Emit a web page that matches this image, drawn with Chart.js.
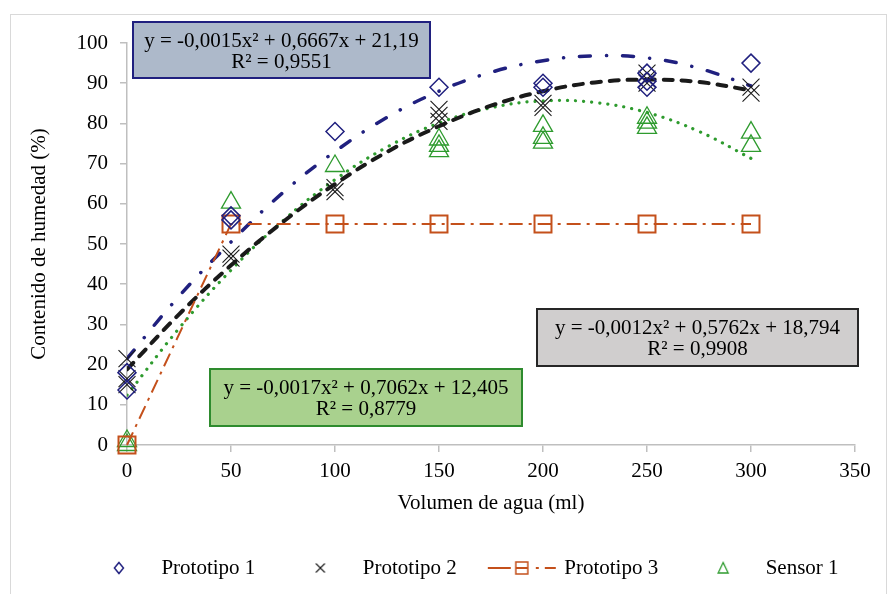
<!DOCTYPE html>
<html>
<head>
<meta charset="utf-8">
<script src="https://cdn.jsdelivr.net/npm/chart.js@4.4.1/dist/chart.umd.min.js"></script>
<style>
  html, body { margin: 0; padding: 0; background: #fff; }
  #wrap { width: 888px; height: 594px; position: relative; }
</style>
</head>
<body>
<div id="wrap"><canvas id="chart"></canvas></div>
<script>
// Measured points: x = volumen de agua (ml), y = contenido de humedad (%)
const proto1X = [0, 0, 50, 50, 100, 150, 200, 200, 250, 250, 250, 300];
const proto1Y = [18, 13.7, 57, 56, 78, 89, 90, 89, 92.5, 90.5, 89, 95];

const proto2X = [0, 0, 0, 50, 50, 100, 100, 150, 150, 150, 200, 200, 250, 250, 250, 300, 300];
const proto2Y = [21.5, 16.5, 15, 47.5, 46.5, 64, 63, 83.5, 82, 80.5, 85, 84, 92.5, 91, 90, 89, 87.5];

const proto3X = [0, 50, 100, 150, 200, 250, 300];
const proto3Y = [0, 55, 55, 55, 55, 55, 55];

const sensorX = [0, 0, 50, 100, 150, 150, 150, 200, 200, 200, 250, 250, 250, 300, 300];
const sensorY = [1, 0, 60.3, 69.4, 76, 74.4, 73.1, 79.4, 76.4, 75.2, 81.4, 80.2, 78.9, 77.7, 74.4];

// Polynomial trend curves
const trendX  = [0, 25, 50, 75, 100, 125, 150, 175, 200, 225, 250, 275, 300];
const trendP1 = [21.5, 37, 50.5, 62.8, 73, 81.5, 88, 92.7, 95.6, 96.8, 96.3, 93.7, 89.3];
const trendP2 = [18.8, 32.5, 44.7, 55.5, 64.9, 72.9, 79.3, 84.4, 88.0, 90.2, 90.9, 90.3, 88.2];
const trendS1 = [12.4, 29, 43.5, 55.8, 66, 74.1, 80.1, 83.9, 85.6, 85.2, 82.7, 78, 71.3];

const xTickValues = [0, 50, 100, 150, 200, 250, 300, 350];
const yTickValues = [0, 10, 20, 30, 40, 50, 60, 70, 80, 90, 100];

const legendNames = ['Prototipo 1', 'Prototipo 2', 'Prototipo 3', 'Sensor 1'];
const eqProto1 = ['y = -0,0015x\u00B2 + 0,6667x + 21,19', 'R\u00B2 = 0,9551'];
const eqProto2 = ['y = -0,0012x\u00B2 + 0,5762x + 18,794', 'R\u00B2 = 0,9908'];
const eqSensor1 = ['y = -0,0017x\u00B2 + 0,7062x + 12,405', 'R\u00B2 = 0,8779'];

const NAVY = '#20207F';
const BLACK = '#1A1A1A';
const ORANGE = '#C4501B';
const GREEN = '#2E9B2E';
const AXIS = '#BFBFBF';
const FONT = '"Liberation Serif", "Times New Roman", serif';

const pts = (xs, ys) => xs.map((x, i) => ({ x: x, y: ys[i] }));

// small canvases used as legend symbols
function makeIcon(w, draw) {
    const c = document.createElement('canvas');
    c.width = w;
    c.height = 24;
    const g = c.getContext('2d');
    draw(g, w / 2, 12);
    return c;
}

const legendIcons = [
    makeIcon(64, (g, cx, cy) => {
        g.strokeStyle = NAVY; g.lineWidth = 1.5;
        g.beginPath();
        g.moveTo(cx, cy - 5.5); g.lineTo(cx + 4.5, cy); g.lineTo(cx, cy + 5.5); g.lineTo(cx - 4.5, cy);
        g.closePath(); g.stroke();
    }),
    makeIcon(64, (g, cx, cy) => {
        g.strokeStyle = BLACK; g.lineWidth = 1.1;
        g.beginPath();
        g.moveTo(cx - 4.5, cy - 4.5); g.lineTo(cx + 4.5, cy + 4.5);
        g.moveTo(cx + 4.5, cy - 4.5); g.lineTo(cx - 4.5, cy + 4.5);
        g.stroke();
    }),
    makeIcon(70, (g, cx, cy) => {
        g.strokeStyle = ORANGE; g.lineWidth = 2;
        g.beginPath();
        g.moveTo(cx - 34, cy); g.lineTo(cx - 11, cy);
        g.moveTo(cx - 6, cy); g.lineTo(cx + 6, cy);
        g.moveTo(cx + 14, cy); g.lineTo(cx + 17, cy);
        g.moveTo(cx + 23, cy); g.lineTo(cx + 34, cy);
        g.stroke();
        g.lineWidth = 1.5;
        g.strokeRect(cx - 6, cy - 6, 12, 12);
    }),
    makeIcon(64, (g, cx, cy) => {
        g.strokeStyle = GREEN; g.lineWidth = 1.3;
        g.beginPath();
        g.moveTo(cx, cy - 5.5); g.lineTo(cx + 5, cy + 5); g.lineTo(cx - 5, cy + 5);
        g.closePath(); g.stroke();
    })
];

// equation boxes and outer frame
const eqBoxes = {
    id: 'eqBoxes',
    afterDraw(chart) {
        const ctx = chart.ctx;
        ctx.save();
        ctx.strokeStyle = '#D9D9D9';
        ctx.lineWidth = 1;
        ctx.strokeRect(10.5, 14.5, 876, 600);

        const boxes = [
            { x: 133, y: 22, w: 297, h: 56, fill: '#ADB9CA', stroke: NAVY, lines: eqProto1 },
            { x: 537, y: 309, w: 321, h: 57, fill: '#D0CECE', stroke: '#262626', lines: eqProto2 },
            { x: 210, y: 369, w: 312, h: 57, fill: '#A9D18E', stroke: '#2E8B2E', lines: eqSensor1 }
        ];
        ctx.font = '21px ' + FONT;
        ctx.textAlign = 'center';
        ctx.textBaseline = 'middle';
        boxes.forEach(b => {
            ctx.fillStyle = b.fill;
            ctx.fillRect(b.x, b.y, b.w, b.h);
            ctx.strokeStyle = b.stroke;
            ctx.lineWidth = 2;
            ctx.strokeRect(b.x, b.y, b.w, b.h);
            ctx.fillStyle = '#000';
            ctx.fillText(b.lines[0], b.x + b.w / 2, b.y + 19.5);
            ctx.fillText(b.lines[1], b.x + b.w / 2, b.y + 40);
        });
        ctx.restore();
    }
};

const markerBase = {
    showLine: false,
    backgroundColor: 'rgba(0,0,0,0)',
    pointBackgroundColor: 'rgba(0,0,0,0)',
    clip: false
};

const trendBase = {
    showLine: true,
    pointRadius: 0,
    fill: false,
    tension: 0.4,
    borderCapStyle: 'round'
};

new Chart(document.getElementById('chart'), {
    type: 'scatter',
    data: {
        datasets: [
            Object.assign({}, markerBase, {
                label: legendNames[0], data: pts(proto1X, proto1Y),
                pointStyle: 'rectRot', pointRadius: 9, borderColor: NAVY, pointBorderWidth: 1.5
            }),
            Object.assign({}, markerBase, {
                label: legendNames[1], data: pts(proto2X, proto2Y),
                pointStyle: 'crossRot', pointRadius: 12, borderColor: BLACK, pointBorderWidth: 1.1
            }),
            Object.assign({}, markerBase, {
                label: legendNames[2], data: pts(proto3X, proto3Y),
                showLine: true, borderColor: ORANGE, borderWidth: 2, borderDash: [14, 6, 3, 6],
                pointStyle: 'rect', pointRadius: 12, pointBorderWidth: 2, tension: 0
            }),
            Object.assign({}, markerBase, {
                label: legendNames[3], data: pts(sensorX, sensorY),
                pointStyle: 'triangle', pointRadius: 11, borderColor: GREEN, pointBorderWidth: 1.3
            }),
            Object.assign({}, trendBase, {
                label: 'trend1', data: pts(trendX, trendP1),
                borderColor: NAVY, borderWidth: 3.5, borderDash: [11, 16, 0.1, 16]
            }),
            Object.assign({}, trendBase, {
                label: 'trend2', data: pts(trendX, trendP2),
                borderColor: BLACK, borderWidth: 4, borderDash: [9, 9]
            }),
            Object.assign({}, trendBase, {
                label: 'trend3', data: pts(trendX, trendS1),
                borderColor: GREEN, borderWidth: 3.2, borderDash: [0.1, 8]
            })
        ]
    },
    options: {
        responsive: true,
        maintainAspectRatio: false,
        animation: false,
        events: [],
        layout: { padding: { left: 37.5, right: 0, top: 43, bottom: 5.5 } },
        scales: {
            x: {
                type: 'linear',
                min: 0,
                max: 350,
                afterBuildTicks: axis => { axis.ticks = xTickValues.map(v => ({ value: v })); },
                afterFit: axis => { axis.height = 79.5; },
                ticks: { color: '#000', font: { family: FONT, size: 21 }, padding: 7, autoSkip: false, maxRotation: 0 },
                grid: { drawOnChartArea: false, drawTicks: true, tickLength: 7, color: AXIS, lineWidth: 1.5 },
                border: { color: AXIS, width: 1.5 },
                title: {
                    display: true, text: 'Volumen de agua (ml)', color: '#000',
                    font: { family: FONT, size: 21 }, padding: { top: 0, bottom: 8 }
                }
            },
            y: {
                type: 'linear',
                min: 0,
                max: 100,
                afterBuildTicks: axis => { axis.ticks = yTickValues.map(v => ({ value: v })); },
                afterFit: axis => { axis.width = 89.5; },
                ticks: { color: '#000', font: { family: FONT, size: 21 }, padding: 12, autoSkip: false },
                grid: { drawOnChartArea: false, drawTicks: true, tickLength: 7, color: AXIS, lineWidth: 1.5 },
                border: { color: AXIS, width: 1.5 },
                title: {
                    display: true, text: 'Contenido de humedad (%)', color: '#000',
                    font: { family: FONT, size: 21 }, padding: { top: -11, bottom: 0 }
                }
            },
            // empty right-hand box that keeps the plot area off the right edge
            yRight: {
                type: 'linear',
                position: 'right',
                display: true,
                ticks: { display: false },
                grid: { display: false },
                border: { display: false },
                afterFit: axis => { axis.width = 33; }
            }
        },
        plugins: {
            tooltip: { enabled: false },
            legend: {
                position: 'bottom',
                labels: {
                    usePointStyle: true,
                    pointStyleWidth: 64,
                    padding: 33,
                    color: '#000',
                    font: { family: FONT, size: 21 },
                    generateLabels: () => legendNames.map((t, i) => ({
                        text: t,
                        pointStyle: legendIcons[i],
                        fontColor: '#000',
                        datasetIndex: i,
                        hidden: false,
                        lineWidth: 0,
                        strokeStyle: 'rgba(0,0,0,0)',
                        fillStyle: 'rgba(0,0,0,0)'
                    }))
                }
            }
        }
    },
    plugins: [eqBoxes]
});
</script>
</body>
</html>
